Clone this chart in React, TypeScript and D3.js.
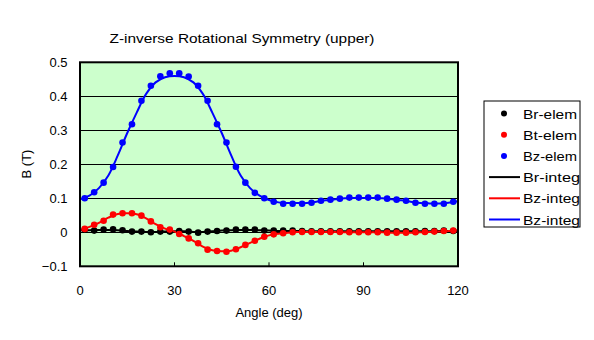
import React from "react";
import * as d3 from "d3";

// Element (dot) samples at 1.5 + 3k degrees
const elemAngles: number[] = [
  1.5, 4.5, 7.5, 10.5, 13.5, 16.5, 19.5, 22.5, 25.5, 28.5,
  31.5, 34.5, 37.5, 40.5, 43.5, 46.5, 49.5, 52.5, 55.5, 58.5,
  61.5, 64.5, 67.5, 70.5, 73.5, 76.5, 79.5, 82.5, 85.5, 88.5,
  91.5, 94.5, 97.5, 100.5, 103.5, 106.5, 109.5, 112.5, 115.5, 118.5,
];
const brElem: number[] = [
  0.008, 0.005, 0.008, 0.009, 0.006, 0.002, 0.002, 0.0, 0.002, 0.002,
  0.004, 0.002, -0.001, 0.002, 0.004, 0.005, 0.008, 0.008, 0.008, 0.005,
  0.005, 0.005, 0.005, 0.004, 0.003, 0.003, 0.003, 0.003, 0.003, 0.003,
  0.003, 0.003, 0.003, 0.003, 0.003, 0.003, 0.004, 0.004, 0.005, 0.004,
];
const btElem: number[] = [
  0.01, 0.022, 0.034, 0.052, 0.056, 0.056, 0.049, 0.032, 0.015, 0.008,
  -0.005, -0.018, -0.032, -0.051, -0.055, -0.057, -0.05, -0.037, -0.025, -0.013,
  -0.006, -0.003, 0.0, 0.001, 0.001, 0.001, 0.001, 0.001, 0.0, 0.0,
  0.0, 0.0, -0.001, -0.001, -0.001, 0.0, 0.001, 0.002, 0.004, 0.005,
];
const bzElem: number[] = [
  0.1, 0.118, 0.146, 0.192, 0.264, 0.318, 0.387, 0.431, 0.459, 0.468,
  0.468, 0.458, 0.431, 0.387, 0.318, 0.264, 0.193, 0.146, 0.116, 0.1,
  0.09, 0.084, 0.084, 0.084, 0.087, 0.093, 0.096, 0.099, 0.102, 0.102,
  0.102, 0.102, 0.099, 0.096, 0.093, 0.087, 0.084, 0.084, 0.084, 0.09,
];

// Integrated (line) samples at 3-degree steps
const integAngles: number[] = [
  0, 3, 6, 9, 12, 15, 18, 21, 24, 27, 30, 33, 36, 39, 42, 45, 48, 51, 54, 57,
  60, 63, 66, 69, 72, 75, 78, 81, 84, 87, 90, 93, 96, 99, 102, 105, 108, 111, 114, 117, 120,
];
const brInteg: number[] = [
  0.006, 0.006, 0.007, 0.007, 0.006, 0.004, 0.002, 0.001, 0.001, 0.002, 0.003,
  0.003, 0.001, 0.001, 0.003, 0.005, 0.006, 0.007, 0.007, 0.006, 0.005,
  0.004, 0.004, 0.004, 0.003, 0.003, 0.003, 0.003, 0.003, 0.003, 0.003,
  0.003, 0.003, 0.003, 0.003, 0.003, 0.003, 0.003, 0.004, 0.004, 0.004,
];
const btInteg: number[] = [
  0.006, 0.016, 0.028, 0.043, 0.054, 0.056, 0.053, 0.041, 0.024, 0.011, 0.002,
  -0.011, -0.025, -0.042, -0.053, -0.056, -0.054, -0.044, -0.031, -0.019, -0.009,
  -0.004, -0.001, 0.001, 0.001, 0.001, 0.001, 0.001, 0.0, 0.0, 0.0,
  0.0, 0.0, -0.001, -0.001, -0.001, 0.0, 0.001, 0.002, 0.004, 0.005,
];
const bzInteg: number[] = [
  0.097, 0.108, 0.13, 0.167, 0.226, 0.292, 0.352, 0.407, 0.441, 0.456, 0.46,
  0.456, 0.441, 0.407, 0.352, 0.292, 0.226, 0.167, 0.13, 0.108, 0.095,
  0.088, 0.086, 0.086, 0.086, 0.09, 0.094, 0.097, 0.1, 0.101, 0.101,
  0.101, 0.1, 0.097, 0.094, 0.09, 0.086, 0.085, 0.085, 0.087, 0.091,
];

const xTicks: number[] = [0, 30, 60, 90, 120];
const yTicks: number[] = [-0.1, 0, 0.1, 0.2, 0.3, 0.4, 0.5];

const legendItems: { label: string; type: "dot" | "line"; color: string }[] = [
  { label: "Br-elem", type: "dot", color: "#000000" },
  { label: "Bt-elem", type: "dot", color: "#FF0000" },
  { label: "Bz-elem", type: "dot", color: "#0000FF" },
  { label: "Br-integ", type: "line", color: "#000000" },
  { label: "Bz-integ", type: "line", color: "#FF0000" },
  { label: "Bz-integ", type: "line", color: "#0000FF" },
];

export default function App() {
  const W = 594, H = 340;
  const left = 80, right = 458, top = 62.3, bottom = 266.3;
  const x = d3.scaleLinear().domain([0, 120]).range([left, right]);
  const y = d3.scaleLinear().domain([-0.1, 0.5]).range([bottom, top]);
  const font = "'Liberation Sans', Arial, sans-serif";

  const line = (vals: number[]) =>
    d3.line<number>()
      .x((_, i) => x(integAngles[i]))
      .y((v) => y(v))
      .curve(d3.curveCatmullRom.alpha(0.5))(vals) || "";

  const dots = (vals: number[], color: string) =>
    vals.map((v, i) => (
      <circle key={i} cx={x(elemAngles[i])} cy={y(v)} r={3.3} fill={color} />
    ));

  const legX = 484, legY = 101, legW = 96, legH = 126;
  const rowY = (i: number) => 113.5 + i * 21.2;

  return (
    <svg width={W} height={H} style={{ position: "absolute", left: 0, top: 0 }}>
      <rect x={0} y={0} width={W} height={H} fill="#FFFFFF" />
      <text x={242} y={43} fontFamily={font} fontSize={13} textAnchor="middle" textLength={265} lengthAdjust="spacingAndGlyphs">
        Z-inverse Rotational Symmetry (upper)
      </text>
      <rect x={left} y={top} width={right - left} height={bottom - top} fill="#CCFFCC" />
      {yTicks.filter((t) => t > -0.1 && t < 0.5).map((t) => (
        <line key={t} x1={left} x2={right} y1={Math.round(y(t)) + 0.5} y2={Math.round(y(t)) + 0.5} stroke="#000" strokeWidth={1} />
      ))}
      {xTicks.filter((t) => t > 0 && t < 120).map((t) => (
        <line key={t} x1={x(t)} x2={x(t)} y1={bottom} y2={bottom - 4} stroke="#000" strokeWidth={1} />
      ))}
      {/* lines */}
      <path d={line(brInteg)} fill="none" stroke="#000000" strokeWidth={2} />
      <path d={line(btInteg)} fill="none" stroke="#FF0000" strokeWidth={2} />
      <path d={line(bzInteg)} fill="none" stroke="#0000FF" strokeWidth={2} />
      {dots(brElem, "#000000")}
      {dots(btElem, "#FF0000")}
      {dots(bzElem, "#0000FF")}
      <rect x={left} y={top} width={right - left} height={bottom - top} fill="none" stroke="#000" strokeWidth={2} />
      {yTicks.map((t) => (
        <text key={t} x={67.5} y={y(t) + 5} fontFamily={font} fontSize={13} textAnchor="end">
          {t === 0 ? "0" : d3.format(".1f")(t)}
        </text>
      ))}
      {xTicks.map((t) => (
        <text key={t} x={x(t)} y={295} fontFamily={font} fontSize={13} textAnchor="middle">
          {t}
        </text>
      ))}
      <text x={269} y={317} fontFamily={font} fontSize={13} textAnchor="middle">Angle (deg)</text>
      <text transform={`translate(31,${164}) rotate(-90)`} fontFamily={font} fontSize={13} textAnchor="middle">B (T)</text>
      <rect x={legX} y={legY} width={legW} height={legH} fill="#FFFFFF" stroke="#000" strokeWidth={1} />
      {legendItems.map((it, i) => (
        <g key={i}>
          {it.type === "dot" ? (
            <circle cx={504} cy={rowY(i)} r={3} fill={it.color} />
          ) : (
            <line x1={489} x2={520} y1={rowY(i)} y2={rowY(i)} stroke={it.color} strokeWidth={2} />
          )}
          <text x={523} y={rowY(i) + 5} fontFamily={font} fontSize={13.5} textLength={it.label.length === 7 ? 54 : 57} lengthAdjust="spacingAndGlyphs">
            {it.label}
          </text>
        </g>
      ))}
    </svg>
  );
}
